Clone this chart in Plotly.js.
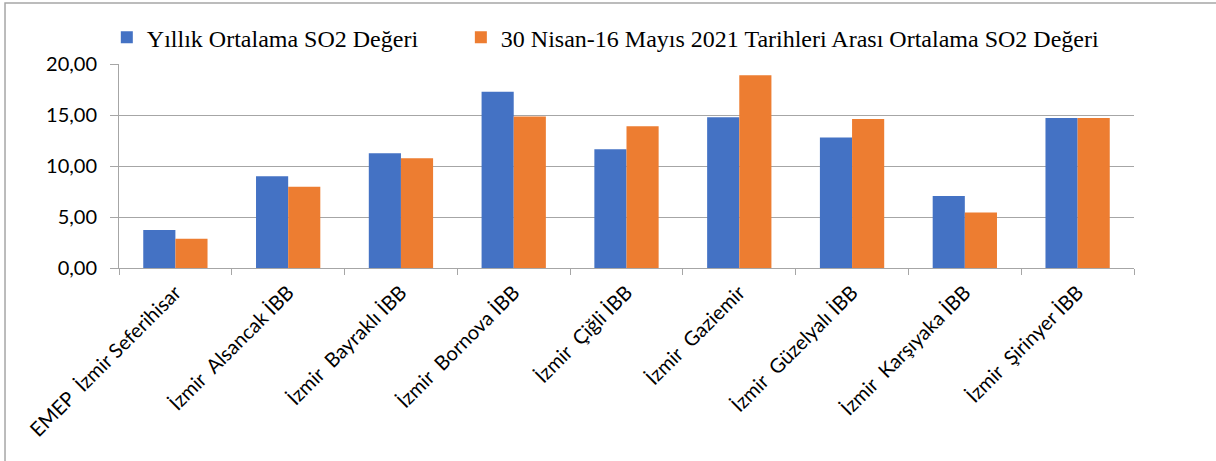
<!DOCTYPE html>
<html>
<head>
<meta charset="utf-8">
<script src="https://cdn.plot.ly/plotly-3.0.1.min.js"></script>
<style>html,body{margin:0;padding:0;background:#fff;}#chart{width:1216px;height:461px;}</style>
</head>
<body>
<div id="chart"></div>
<script>
const categories = [
  "EMEP\u00a0 İzmir Seferihisar",
  "İzmir\u00a0 Alsancak İBB",
  "İzmir\u00a0 Bayraklı İBB",
  "İzmir\u00a0 Bornova İBB",
  "İzmir\u00a0 Çiğli İBB",
  "İzmir\u00a0 Gaziemir",
  "İzmir\u00a0 Güzelyalı İBB",
  "İzmir\u00a0 Karşıyaka İBB",
  "İzmir\u00a0 Şirinyer İBB"
];
const seriesNames = ["Yıllık Ortalama SO2 Değeri", "30 Nisan-16 Mayıs 2021 Tarihleri Arası Ortalama SO2 Değeri"];
const annualValues = [3.72, 9.00, 11.26, 17.29, 11.65, 14.78, 12.79, 7.05, 14.71];
const periodValues = [2.87, 7.96, 10.77, 14.85, 13.90, 18.89, 14.62, 5.45, 14.71];
const yTickValues = [0, 5, 10, 15, 20];

const grid = '#a6a6a6';
const legendFont = {family: '"Liberation Serif", "Times New Roman", serif', size: 24, color: '#000'};
const data = [
  {type: 'bar', name: seriesNames[0], x: categories, y: annualValues, marker: {color: '#4472C4'}, legend: 'legend'},
  {type: 'bar', name: seriesNames[1], x: categories, y: periodValues, marker: {color: '#ED7D31'}, legend: 'legend2'}
];
const layout = {
  width: 1216, height: 461,
  margin: {l: 119, r: 82, t: 64, b: 193},
  paper_bgcolor: '#fff', plot_bgcolor: '#fff',
  separators: ',.',
  barmode: 'group', bargap: 0.43, bargroupgap: 0,
  showlegend: true,
  legend: {
    orientation: 'h', x: -0.012, xanchor: 'left', y: 1.24, yanchor: 'top',
    font: legendFont, bgcolor: 'rgba(0,0,0,0)'
  },
  legend2: {
    orientation: 'h', x: 0.3368, xanchor: 'left', y: 1.24, yanchor: 'top',
    font: legendFont, bgcolor: 'rgba(0,0,0,0)'
  },
  xaxis: {
    type: 'category', tickangle: -45, tickson: 'boundaries',
    ticks: 'outside', ticklen: 6, tickcolor: grid, tickwidth: 1,
    showline: true, linecolor: grid, linewidth: 1,
    showgrid: false, ticklabelstandoff: 4,
    tickfont: {family: 'Lato, "Open Sans", sans-serif', size: 20, color: '#000'}
  },
  yaxis: {
    range: [0, 20], tickvals: yTickValues, tickformat: '.2f',
    ticks: 'outside', ticklen: 8, tickcolor: grid, tickwidth: 1,
    showline: true, linecolor: grid, linewidth: 1,
    showgrid: true, gridcolor: grid, gridwidth: 1, zeroline: false,
    ticklabelstandoff: 9,
    tickfont: {family: 'Lato, "Open Sans", sans-serif', size: 20, color: '#000'}
  },
  shapes: [
    {type: 'rect', xref: 'paper', yref: 'paper', x0: -0.1123, x1: 1.082, y0: -1.2, y1: 1.299,
     line: {color: '#a6a6a6', width: 1.5}, fillcolor: 'rgba(0,0,0,0)', layer: 'below'}
  ]
};
Plotly.newPlot('chart', data, layout, {displayModeBar: false, staticPlot: true});
</script>
</body>
</html>
